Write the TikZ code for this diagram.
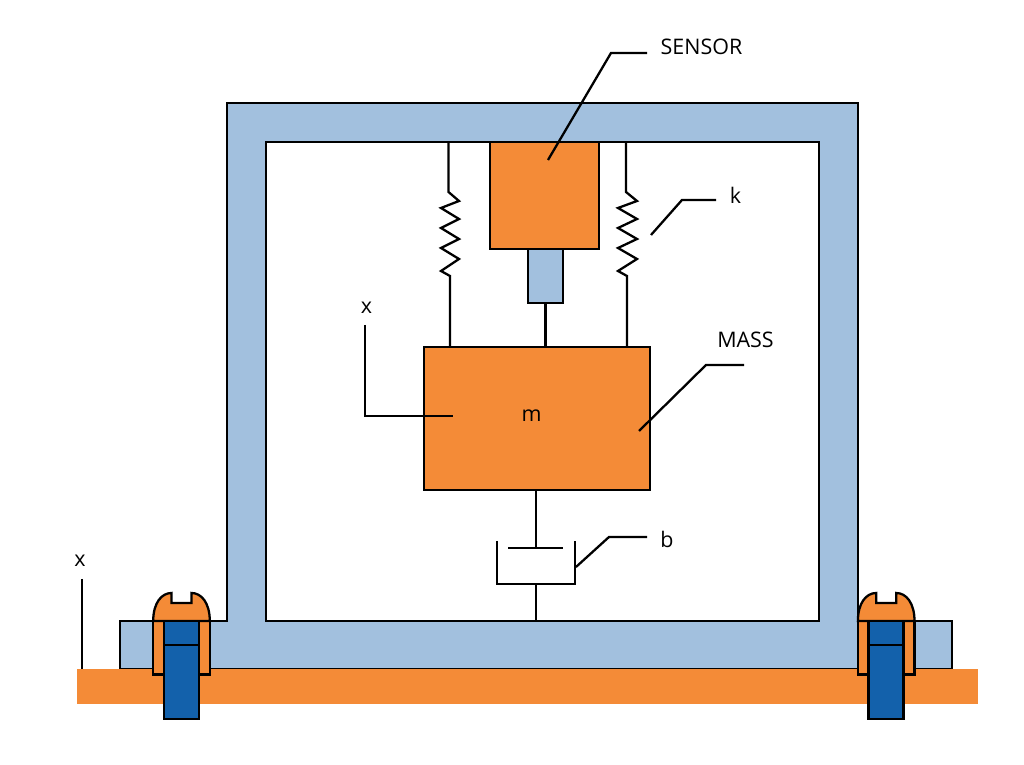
\documentclass[tikz,border=0pt]{standalone}
\usepackage{fontspec}
\setmainfont{Open Sans}
\usetikzlibrary{calc}
\definecolor{partorange}{HTML}{F48B37}
\definecolor{partblue}{HTML}{A2C0DE}
\definecolor{boltblue}{HTML}{1361AB}
\tikzset{
	outline/.style={line width=0.65pt, draw=black},
	leader/.style={line width=0.65pt},
	wire/.style={line width=0.65pt},
	partbox/.style={outline, inner sep=0pt, outer sep=0pt, fill=#1},
	tag/.style={inner sep=0pt, font=\fontsize{6.1}{8}\selectfont}
}
\def\fixbolt(#1){
	\begin{scope}[shift={(#1, 0)}]
		\draw[outline, fill=partorange] (-28.3, 621) rectangle (28.3, 674.5);
		\draw[outline, fill=partorange] (-28.3, 621) .. controls (-28.3, 603) and (-20, 593) .. (-10, 593) -- (-10, 603) -- (10, 603) -- (10, 593) .. controls (20, 593) and (28.3, 603) .. (28.3, 621) -- cycle;
		\draw[outline, fill=boltblue, line width=0.8pt] (-17.5, 621) rectangle (17.5, 719);
		\draw[outline] (-17.5, 645) -- (17.5, 645);
	\end{scope}
}

\begin{document}
\begin{tikzpicture}[x=0.01cm, y=-0.01cm]
	%%%%% START %%%%%
	\useasboundingbox (0, 0) rectangle (1024, 765);

	\draw[outline, fill=partblue] (120, 621) -- (227, 621) -- (227, 103) -- (858, 103) -- (858, 621) -- (952, 621) -- (952, 669) -- (120, 669) -- cycle;
	\draw[outline, fill=white] (266, 142) rectangle (819, 621);
	\fill[partorange] (77, 669.5) rectangle (978, 704);

	\fixbolt(181.5)
	\fixbolt(886.2)

	\node[partbox=partorange, minimum width=1.09cm, minimum height=1.07cm] (sensor) at (544.5, 195.5) {};
	\node[partbox=partblue, minimum width=0.35cm, minimum height=0.54cm, anchor=north] (probe) at (545.5, 249) {};
	\node[partbox=partorange, minimum width=2.26cm, minimum height=1.43cm] (mass) at (537, 418.5) {};
	\node[tag] (mlabel) at (531.5, 416) {m};

	\draw[wire] (probe.south) -- (probe.south |- mass.north);

	% springs
	\draw[wire] (448.5, 142) -- (448.5, 192) -- (459, 201) -- (441, 208) -- (459, 219) -- (441, 228) -- (459, 239) -- (441, 248) -- (459, 259) -- (441, 271) -- (450, 276) -- (450, 347);
	\draw[wire] (626, 142) -- (626, 192) -- (637, 201) -- (618, 208) -- (637, 219) -- (618, 228) -- (637, 239) -- (618, 248) -- (637, 259) -- (618, 271) -- (627, 276) -- (627, 347);

	% damper
	\coordinate (pistonmid) at (536, 548);
	\coordinate (cupmid) at (536, 584);
	\coordinate (floormid) at (536, 621);
	\draw[wire] (mass.south -| pistonmid) -- (pistonmid);
	\draw[wire] (508, 548) -- (563, 548);
	\draw[wire, line width=0.8pt] (497, 541) -- (497, 584) -- (575, 584) -- (575, 541);
	\draw[wire] (cupmid) -- (floormid);

	% labels
	\node[tag] (sensorlabel) at (701.5, 47) {SENSOR};
	\node[tag] (klabel) at (735.5, 195) {k};
	\node[tag] (masslabel) at (745.5, 340) {MASS};
	\node[tag] (xinner) at (366.5, 308) {x};
	\node[tag] (blabel) at (667, 539) {b};
	\node[tag] (xouter) at (80, 561) {x};

	\draw[leader] (647, 53) -- (611, 53) -- (548, 160);
	\draw[leader] (716, 200) -- (682, 200) -- (651, 235);
	\draw[leader] (744, 365) -- (706, 365) -- (639, 431);
	\draw[leader] (365, 325) -- (365, 416) -- (453, 416);
	\draw[leader] (647, 537) -- (609, 537) -- (576, 567);
	\draw[leader] (82, 579) -- (82, 669.5);
	%%%%% END %%%%%
\end{tikzpicture}
\end{document}
